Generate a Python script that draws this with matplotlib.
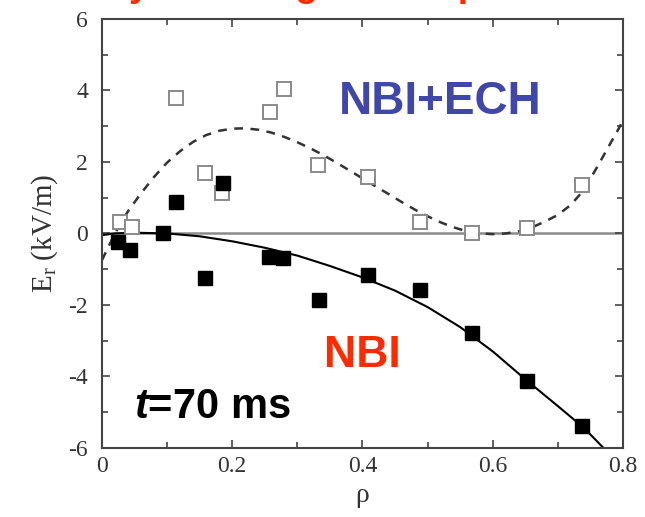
import matplotlib
matplotlib.use('Agg')
import matplotlib.pyplot as plt
from matplotlib.ticker import MultipleLocator

plt.rcParams['font.family'] = ['Liberation Serif', 'DejaVu Serif']
plt.rcParams['mathtext.fontset'] = 'custom'
plt.rcParams['mathtext.rm'] = 'Liberation Serif'
plt.rcParams['mathtext.it'] = 'Liberation Sans:italic:bold'
plt.rcParams['mathtext.bf'] = 'Liberation Sans:bold'
plt.rcParams['axes.unicode_minus'] = False

# NBI+ECH (open squares)
rho_ech = [0.028, 0.046, 0.114, 0.158, 0.184, 0.258, 0.280, 0.332, 0.409, 0.488, 0.568, 0.653, 0.737]
er_ech = [0.32, 0.18, 3.78, 1.69, 1.13, 3.39, 4.03, 1.91, 1.58, 0.32, 0.00, 0.15, 1.35]

# NBI only (filled squares)
rho_nbi = [0.025, 0.043, 0.094, 0.114, 0.186, 0.158, 0.257, 0.278, 0.333, 0.409, 0.488, 0.568, 0.653, 0.737]
er_nbi = [-0.24, -0.47, 0.01, 0.88, 1.41, -1.25, -0.66, -0.69, -1.87, -1.17, -1.59, -2.79, -4.13, -5.39]

# fit curves
fit_ech_x = [0.00, 0.02, 0.04, 0.06, 0.08, 0.10, 0.12, 0.14, 0.16, 0.18, 0.20, 0.22, 0.24, 0.26,
             0.28, 0.30, 0.32, 0.34, 0.36, 0.38, 0.40, 0.42, 0.44, 0.46, 0.48, 0.50, 0.52, 0.54,
             0.56, 0.58, 0.60, 0.62, 0.64, 0.66, 0.68, 0.70, 0.72, 0.74, 0.76, 0.78, 0.80]
fit_ech_y = [-0.75, 0.00, 0.62, 1.12, 1.58, 1.98, 2.30, 2.56, 2.75, 2.87, 2.93, 2.94, 2.90, 2.82,
             2.70, 2.55, 2.38, 2.19, 1.98, 1.76, 1.54, 1.32, 1.10, 0.88, 0.67, 0.48, 0.31, 0.17,
             0.06, 0.00, -0.02, 0.00, 0.06, 0.17, 0.33, 0.52, 0.80, 1.22, 1.85, 2.50, 3.15]

fit_nbi_x = [0.00, 0.02, 0.05, 0.10, 0.15, 0.20, 0.25, 0.30, 0.35, 0.40, 0.45, 0.50, 0.55,
             0.60, 0.65, 0.70, 0.74, 0.77]
fit_nbi_y = [-0.05, 0.00, 0.02, 0.00, -0.08, -0.22, -0.40, -0.62, -0.91, -1.23, -1.60, -2.06, -2.62,
             -3.30, -4.08, -4.83, -5.44, -6.00]

fig = plt.figure(figsize=(6.45, 5.17), dpi=100)
ax = fig.add_axes([0.158, 0.1335, 0.808, 0.83])

ax.axhline(0, color='#8a8a8a', lw=1.8, zorder=1)
ax.plot(fit_ech_x, fit_ech_y, color='#333333', lw=1.8, dashes=(3.5, 3), zorder=2)
ax.plot(fit_nbi_x, fit_nbi_y, color='black', lw=1.5, zorder=2)
ax.plot(rho_ech, er_ech, ls='none', marker='s', ms=10, mfc='white', mec='#8a8a8a', mew=1.4, zorder=3)
ax.plot(rho_nbi, er_nbi, ls='none', marker='s', ms=10, mfc='black', mec='black', zorder=4)

ax.set_xlim(0, 0.8)
ax.set_ylim(-6, 6)
ax.xaxis.set_minor_locator(MultipleLocator(0.1))
ax.yaxis.set_major_locator(MultipleLocator(2))
ax.yaxis.set_minor_locator(MultipleLocator(1))
ax.set_xticks([0, 0.2, 0.4, 0.6, 0.8])
ax.set_xticklabels(['0', '0.2', '0.4', '0.6', '0.8'])
ax.tick_params(which='both', direction='in', top=True, right=True, colors='#444444',
               labelcolor='#333333', labelsize=17, width=1.2)
ax.tick_params(which='major', length=6)
ax.tick_params(axis='y', which='major', pad=10)
ax.tick_params(axis='x', which='major', pad=6)
ax.tick_params(which='minor', length=4)
for s in ax.spines.values():
    s.set_color('#444444')
    s.set_linewidth(1.5)

ax.set_xlabel('ρ', fontsize=20, color='#333333', labelpad=4)
ax.set_ylabel(r'E$_\mathrm{r}$ (kV/m)', fontsize=21, color='#333333', labelpad=6)

ax.text(0.519, 3.67, 'NBI+ECH', color='#3f48a8', fontsize=33, fontweight='bold',
        family='Liberation Sans', ha='center', va='center')
ax.text(0.40, -3.4, 'NBI', color='#ff2a00', fontsize=32, fontweight='bold',
        family='Liberation Sans', ha='center', va='center')
ax.text(0.05, -4.85, '$\\mathit{t}$=70 ms', color='black', fontsize=30, fontweight='bold',
        family='Liberation Sans', ha='left', va='center')

# title cut off at the top edge, only its descenders show
fig.text(56 / 645, 1.008, 'Er by ECH: big Er bump', color='#ff2a00', fontsize=27,
         fontweight='bold', family='Liberation Sans', ha='left', va='baseline')

fig.savefig('out.png', dpi=100)
